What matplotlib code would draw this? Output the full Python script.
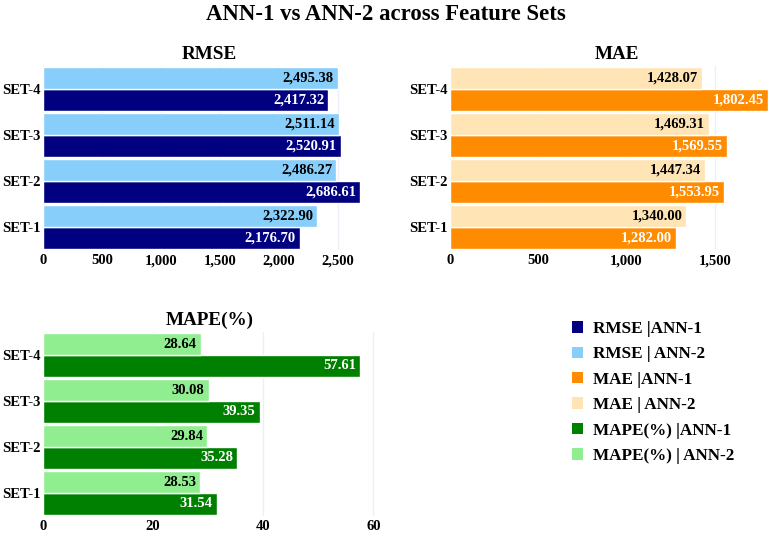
import numpy as np
import matplotlib
matplotlib.use("Agg")
import matplotlib.pyplot as plt
from matplotlib.ticker import FuncFormatter

plt.rcParams['font.family'] = ['Liberation Serif', 'DejaVu Serif']
plt.rcParams['font.weight'] = 'bold'

sets = ["SET-1", "SET-2", "SET-3", "SET-4"]

rmse_ann1 = [2176.70, 2686.61, 2520.91, 2417.32]
rmse_ann2 = [2322.90, 2486.27, 2511.14, 2495.38]
mae_ann1 = [1282.00, 1553.95, 1569.55, 1802.45]
mae_ann2 = [1340.00, 1447.34, 1469.31, 1428.07]
mape_ann1 = [31.54, 35.28, 39.35, 57.61]
mape_ann2 = [28.53, 29.84, 30.08, 28.64]

rmse_ticks = [0, 500, 1000, 1500, 2000, 2500]
mae_ticks = [0, 500, 1000, 1500]
mape_ticks = [0, 20, 40, 60]

W, H = 772, 536
fig = plt.figure(figsize=(W / 100, H / 100), dpi=100)


def px_axes(left, top, right, bottom):
    return fig.add_axes([left / W, 1 - bottom / H, (right - left) / W, (bottom - top) / H])


def label_bars(ax, ys, vals, color):
    for yy, v in zip(ys, vals):
        ax.annotate(f"{v:,.2f}", xy=(v, yy), xytext=(-3, 0), textcoords='offset points',
                    ha='right', va='center', color=color, fontsize=10.5,
                    fontweight='bold', zorder=3)


def panel(ax, title, v1, v2, c1, c2, name, ticks):
    y = np.arange(len(sets))
    h = 0.475
    b1 = ax.barh(y - h / 2, v1, height=h, color=c1, edgecolor='white', linewidth=1,
                 label=f"{name} |ANN-1", zorder=2)
    b2 = ax.barh(y + h / 2, v2, height=h, color=c2, edgecolor='white', linewidth=1,
                 label=f"{name} | ANN-2", zorder=2)
    label_bars(ax, y - h / 2, v1, 'white')
    label_bars(ax, y + h / 2, v2, 'black')
    ax.set_xlim(0, max(max(v1), max(v2)) * 1.05)
    ax.set_ylim(-0.5, len(sets) - 0.5)
    ax.set_xticks(ticks)
    ax.xaxis.set_major_formatter(FuncFormatter(lambda v, p: f"{v:,.0f}"))
    ax.set_yticks(y)
    ax.set_yticklabels(sets)
    ax.tick_params(length=0, labelsize=10.5, colors='black')
    ax.tick_params(axis='x', pad=3)
    ax.tick_params(axis='y', pad=2)
    for lab in ax.get_xticklabels() + ax.get_yticklabels():
        lab.set_fontweight('bold')
    for s in ax.spines.values():
        s.set_visible(False)
    ax.grid(axis='x', color='#EBF0F8', linewidth=1, zorder=0)
    ax.set_axisbelow(True)
    ax.set_title(title, fontsize=13.8, fontweight='bold', pad=5)
    return b1, b2


ax1 = px_axes(43, 66, 376, 250)
ax2 = px_axes(450, 66, 784, 250)
ax3 = px_axes(43, 332, 376, 516)

h1 = panel(ax1, "RMSE", rmse_ann1, rmse_ann2, '#000080', '#87CEFA', "RMSE", rmse_ticks)
h2 = panel(ax2, "MAE", mae_ann1, mae_ann2, '#FF8C00', '#FFE4B5', "MAE", mae_ticks)
h3 = panel(ax3, "MAPE(%)", mape_ann1, mape_ann2, '#008000', '#90EE90', "MAPE(%)", mape_ticks)

handles = list(h1) + list(h2) + list(h3)
leg = fig.legend(handles=handles, labels=[h.get_label() for h in handles],
                 loc='upper left', bbox_to_anchor=(572 / W, 1 - 321 / H),
                 frameon=False, prop={'weight': 'bold', 'size': 12.3},
                 handlelength=0.65, handleheight=0.65, handletextpad=0.6,
                 labelspacing=0.55, borderpad=0, borderaxespad=0)
for p in leg.get_patches():
    p.set_edgecolor('none')

fig.suptitle("ANN-1 vs ANN-2 across Feature Sets", x=0.5, y=1 - 15 / H, va='center',
             fontsize=16.4, fontweight='bold')

fig.savefig("out.png", dpi=100)
